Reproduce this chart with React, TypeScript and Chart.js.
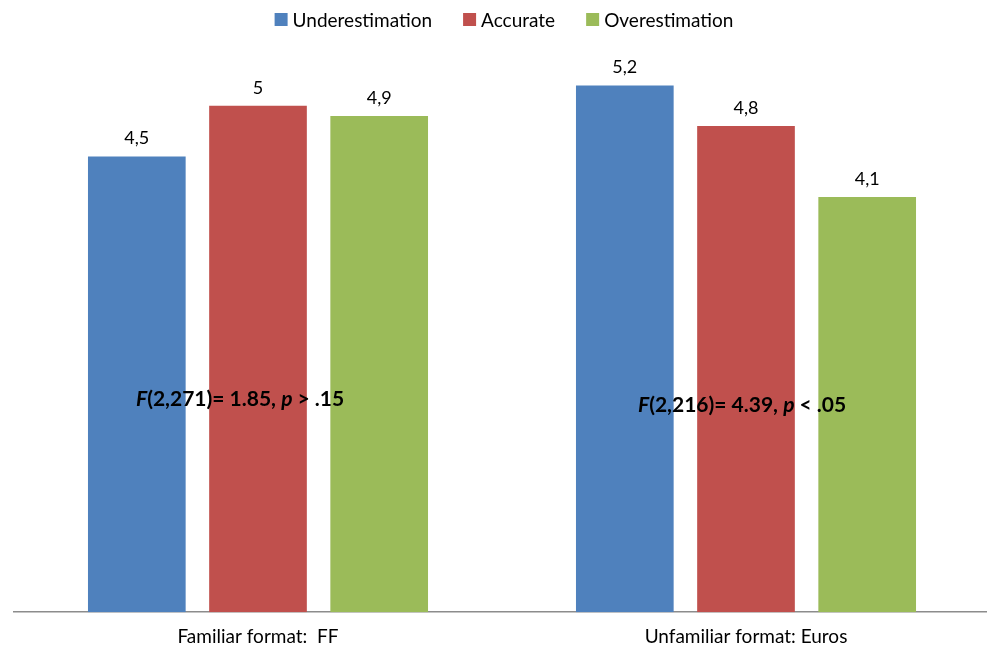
import { useEffect, useRef } from "react";
import { Chart, registerables } from "chart.js";

Chart.register(...registerables);

const categories = ["Familiar format:  FF", "Unfamiliar format: Euros"];
const seriesNames = ["Underestimation", "Accurate", "Overestimation"];
const underestimation = [4.5, 5.2];
const accurate = [5.0, 4.8];
const overestimation = [4.9, 4.1];
const seriesColors = ["#4F81BD", "#C0504D", "#9BBB59"];

// statistical test annotation for each category
const statTexts = [
  [
    { t: "F", i: true },
    { t: "(2,271)= 1.85, ", i: false },
    { t: "p", i: true },
    { t: " > .15", i: false },
  ],
  [
    { t: "F", i: true },
    { t: "(2,216)= 4.39, ", i: false },
    { t: "p", i: true },
    { t: " < .05", i: false },
  ],
];
const statYValues = [2.1, 2.04];
const statXShift = [-122, -108];

const FONT = "Lato, 'Open Sans', sans-serif";

const fmt = (v: number) => String(v).replace(".", ",");

const labelsPlugin = {
  id: "customLabels",
  afterDatasetsDraw(chart: any) {
    const ctx = chart.ctx;
    ctx.save();
    // value labels
    ctx.font = `18px ${FONT}`;
    ctx.fillStyle = "#000";
    ctx.textAlign = "center";
    ctx.textBaseline = "middle";
    chart.data.datasets.forEach((ds: any, di: number) => {
      const meta = chart.getDatasetMeta(di);
      meta.data.forEach((el: any, i: number) => {
        ctx.fillText(fmt(ds.data[i]), el.x, el.y - 18);
      });
    });
    // stat annotations
    const xs = chart.scales.x;
    const ys = chart.scales.y;
    ctx.textAlign = "left";
    statTexts.forEach((parts, ci) => {
      let x = xs.getPixelForValue(ci) + statXShift[ci];
      const y = ys.getPixelForValue(statYValues[ci]);
      parts.forEach((p) => {
        ctx.font = `${p.i ? "italic " : ""}bold 21px ${FONT}`;
        ctx.fillText(p.t, x, y);
        x += ctx.measureText(p.t).width;
      });
    });
    ctx.restore();
  },
  afterDraw(chart: any) {
    const ctx = chart.ctx;
    ctx.save();
    ctx.font = `19px ${FONT}`;
    ctx.textBaseline = "middle";
    ctx.textAlign = "left";
    const box = 13;
    const gap = 5;
    const itemGap = 31;
    const widths = chart.data.datasets.map((d: any) => ctx.measureText(d.label).width);
    const total =
      widths.reduce((a: number, b: number) => a + b, 0) +
      widths.length * (box + gap) +
      (widths.length - 1) * itemGap;
    let x = (chart.chartArea.left + chart.chartArea.right) / 2 - total / 2 + 2;
    const yc = 19.5;
    chart.data.datasets.forEach((d: any, i: number) => {
      ctx.fillStyle = d.backgroundColor;
      ctx.fillRect(x, yc - box / 2, box, box);
      x += box + gap;
      ctx.fillStyle = "#000";
      ctx.fillText(d.label, x, yc + 1);
      x += widths[i] + itemGap;
    });
    ctx.restore();
  },
};

export default function App() {
  const ref = useRef<HTMLCanvasElement | null>(null);
  useEffect(() => {
    if (!ref.current) return;
    const seriesValues = [underestimation, accurate, overestimation];
    const chart = new Chart(ref.current, {
      type: "bar",
      data: {
        labels: categories,
        datasets: seriesNames.map((name, i) => ({
          label: name,
          data: seriesValues[i],
          backgroundColor: seriesColors[i],
          borderWidth: 0,
          categoryPercentage: 0.745,
          barPercentage: 0.806,
        })),
      },
      options: {
        responsive: false,
        animation: false,
        devicePixelRatio: 1,
        layout: { padding: { top: 45, left: 14, right: 1, bottom: 0 } },
        plugins: {
          legend: { display: false },
          tooltip: { enabled: false },
        },
        scales: {
          x: {
            grid: { display: false, drawTicks: false },
            border: { display: true, color: "#8c8c8c", width: 1.5 },
            ticks: { font: { family: FONT, size: 19 }, color: "#000", padding: 13 },
          },
          y: {
            display: false,
            min: 0,
            max: 5.6,
          },
        },
      },
      plugins: [labelsPlugin],
    });
    return () => chart.destroy();
  }, []);
  return (
    <div
      style={{
        position: "absolute",
        left: 0,
        top: 0,
        width: 987,
        height: 645,
        overflow: "hidden",
        background: "#fff",
      }}
    >
      <canvas ref={ref} width={991} height={661} style={{ width: 991, height: 661, display: "block" }} />
    </div>
  );
}
